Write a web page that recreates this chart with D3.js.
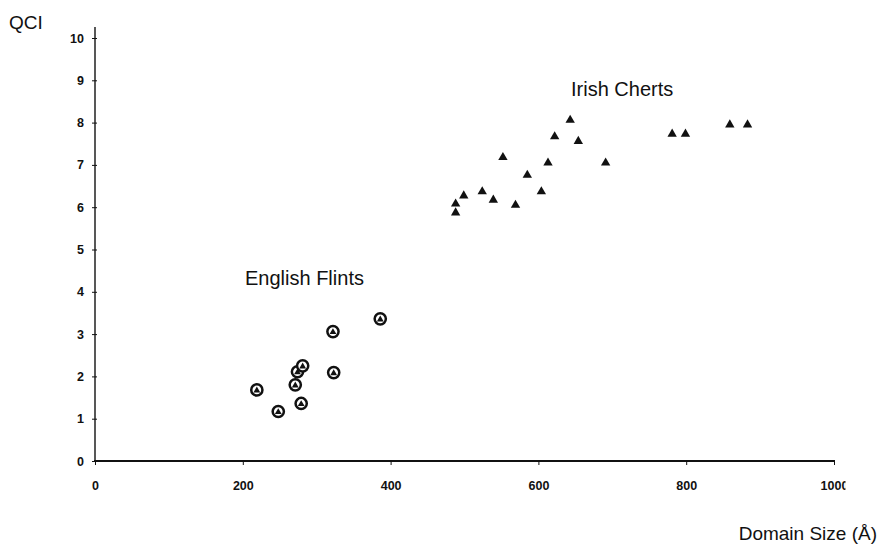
<!DOCTYPE html>
<html>
<head>
<meta charset="utf-8">
<script src="https://cdn.jsdelivr.net/npm/d3@7"></script>
<style>
  html, body { margin: 0; padding: 0; background: #fff; }
  svg { display: block; font-family: Arial, "Liberation Sans", Helvetica, sans-serif; }
</style>
</head>
<body>
<svg id="chart" width="880" height="554"></svg>
<script>
// Domain size (Å) and QCI for the two sample groups
const flintSize = [219, 248, 271, 274, 281, 279, 322, 323, 386];
const flintQCI  = [1.68, 1.17, 1.80, 2.11, 2.25, 1.36, 3.06, 2.09, 3.36];

const chertSize = [488, 488, 499, 524, 539, 569, 552, 585, 604, 613, 622, 643, 654, 691, 781, 799, 859, 883];
const chertQCI  = [5.87, 6.08, 6.27, 6.37, 6.17, 6.05, 7.18, 6.76, 6.37, 7.05, 7.67, 8.06, 7.56, 7.05, 7.73, 7.73, 7.95, 7.95];

const xTicks = [0, 200, 400, 600, 800, 1000];
const yTicks = [0, 1, 2, 3, 4, 5, 6, 7, 8, 9, 10];

const groupLabels = ["English Flints", "Irish Cherts"];
const xTitle = "Domain Size (Å)";
const yTitle = "QCI";

const svg = d3.select("#chart");
const ink = "#111";

const x = d3.scaleLinear().domain([0, 1000]).range([95, 834]);
const y = d3.scaleLinear().domain([0, 10]).range([461, 38]);

// Axis lines
svg.append("line")
  .attr("x1", x(0)).attr("x2", x(0))
  .attr("y1", y(0)).attr("y2", 27)
  .attr("stroke", ink).attr("stroke-width", 1.4);
svg.append("line")
  .attr("x1", x(0) - 1).attr("x2", x(1000) + 1)
  .attr("y1", y(0)).attr("y2", y(0))
  .attr("stroke", ink).attr("stroke-width", 1.8);

const tickFont = "Arial, 'Liberation Sans', sans-serif";

// Y axis ticks and labels
const yAxis = d3.axisLeft(y).tickValues(yTicks).tickSize(3).tickPadding(8).tickFormat(d3.format("d"));
const gy = svg.append("g").attr("transform", `translate(${x(0)},0)`).call(yAxis);
gy.select(".domain").remove();
gy.selectAll(".tick line").attr("stroke", ink).attr("x2", -3).attr("x1", 2);
gy.selectAll(".tick text")
  .attr("fill", ink).attr("font-size", 12.5).attr("font-weight", "bold")
  .attr("font-family", tickFont);

// X axis ticks and labels
const xAxis = d3.axisBottom(x).tickValues(xTicks).tickSize(3).tickPadding(17).tickFormat(d3.format("d"));
const gx = svg.append("g").attr("transform", `translate(0,${y(0)})`).call(xAxis);
gx.select(".domain").remove();
gx.selectAll(".tick line").attr("stroke", ink).attr("y1", -1).attr("y2", 4);
gx.selectAll(".tick text")
  .attr("fill", ink).attr("font-size", 12.5).attr("font-weight", "bold")
  .attr("font-family", tickFont);

// The last x label runs off the printed edge (clip in the tick's local space)
svg.append("defs").append("clipPath").attr("id", "edgeClip")
  .append("rect").attr("x", -40).attr("y", -10).attr("width", 51).attr("height", 60);
gx.selectAll(".tick").filter(d => d === 1000).select("text").attr("clip-path", "url(#edgeClip)");

// Axis titles
svg.append("text")
  .attr("x", 9).attr("y", 29)
  .attr("font-size", 19).attr("fill", ink)
  .text(yTitle);
svg.append("text")
  .attr("x", 877).attr("y", 540)
  .attr("text-anchor", "end")
  .attr("font-size", 19).attr("fill", ink)
  .text(xTitle);

// Group labels
svg.append("text")
  .attr("x", 245).attr("y", 285)
  .attr("font-size", 20).attr("fill", ink)
  .text(groupLabels[0]);
svg.append("text")
  .attr("x", 571).attr("y", 96)
  .attr("font-size", 20).attr("fill", ink)
  .text(groupLabels[1]);

// English Flints: ringed markers with a triangle inside
const flints = flintSize.map((s, i) => ({ s, q: flintQCI[i] }));
const fg = svg.append("g").selectAll("g").data(flints).join("g")
  .attr("transform", d => `translate(${x(d.s)},${y(d.q)})`);
fg.append("circle")
  .attr("r", 5.6)
  .attr("fill", "#fff").attr("stroke", ink).attr("stroke-width", 2.5);
fg.append("path")
  .attr("d", d3.symbol().type(d3.symbolTriangle).size(20))
  .attr("transform", "translate(0,0.6)")
  .attr("fill", ink);

// Irish Cherts: filled triangles
const cherts = chertSize.map((s, i) => ({ s, q: chertQCI[i] }));
svg.append("g").selectAll("path").data(cherts).join("path")
  .attr("transform", d => `translate(${x(d.s)},${y(d.q)})`)
  .attr("d", d3.symbol().type(d3.symbolTriangle).size(38))
  .attr("fill", ink);
</script>
</body>
</html>
